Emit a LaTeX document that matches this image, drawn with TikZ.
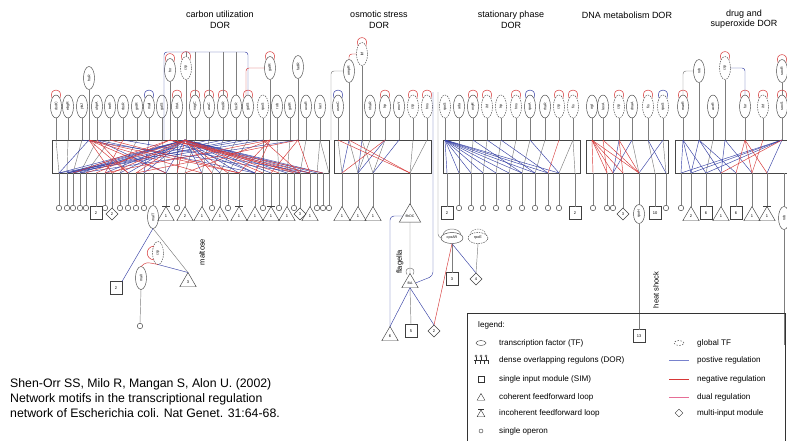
\documentclass[tikz,border=0pt]{standalone}
\usepackage{fontspec}
\setmainfont{Liberation Sans}
\usepackage{graphicx}
\usetikzlibrary{shapes.geometric,calc}
\definecolor{posc}{RGB}{55,65,165}
\definecolor{negc}{RGB}{215,55,55}
\definecolor{grc}{RGB}{125,125,125}
\definecolor{bxc}{RGB}{70,70,70}
\definecolor{legpc}{RGB}{120,130,205}
\definecolor{legdc}{RGB}{230,110,150}
\tikzset{
  tf/.style={ellipse, draw=black!75, line width=0.45pt, minimum width=11pt, minimum height=23pt, inner sep=0pt, outer sep=0pt, font=\fontsize{3.6}{4}\selectfont},
  gtf/.style={tf, dash pattern=on 1.5pt off 1pt},
  op/.style={circle, draw=black!75, line width=0.45pt, minimum size=5.5pt, inner sep=0pt, outer sep=0pt},
  simn/.style={rectangle, draw=black!75, line width=0.45pt, minimum width=12pt, minimum height=13pt, inner sep=0pt, outer sep=0pt, font=\fontsize{4}{4}\selectfont},
  ffl/.style={regular polygon, regular polygon sides=3, draw=black!75, line width=0.45pt, minimum size=19pt, inner sep=0pt, outer sep=0pt, font=\fontsize{4}{4}\selectfont},
  mim/.style={diamond, draw=black!75, line width=0.45pt, minimum size=12pt, inner sep=0pt, outer sep=0pt, font=\fontsize{4}{4}\selectfont},
  dorbox/.style={rectangle, draw=bxc, line width=0.5pt, inner sep=0pt, outer sep=0pt, anchor=north west, minimum height=33pt},
  vl/.style={draw=grc, line width=0.45pt},
  pl/.style={draw=posc, line width=0.45pt},
  nl/.style={draw=negc, line width=0.45pt},
  title/.style={font=\fontsize{9}{10.5}\selectfont, align=center, inner sep=0pt},
  rottext/.style={font=\fontsize{7.5}{8}\selectfont, rotate=90, inner sep=0pt},
  legtext/.style={font=\fontsize{8.1}{9}\selectfont, anchor=west, inner sep=0pt},
}
\newcommand\TF[4][tf]{\node[#1] (#2) at (#3) {\rotatebox{90}{#4}};}
\newcommand\SLP[2][negc]{\draw[draw=#1, line width=0.5pt] ($(#2.center)+(-4,-8.5)$) .. controls ($(#2.center)+(-8,-19)$) and ($(#2.center)+(8,-19)$) .. ($(#2.center)+(4,-8.5)$);}
\newcommand\IBAR[1]{\draw[black!75, line width=0.45pt] ($(#1.corner 1)+(-4,-0.5)$) -- ($(#1.corner 1)+(4,-0.5)$);}
\begin{document}
\begin{tikzpicture}[x=1pt,y=-1pt]
\useasboundingbox (0,0) rectangle (787,440);
\fill[white] (0,0) rectangle (787,440);
% titles
\node[title] (t1) at (220,20) {carbon utilization\\DOR};
\node[title] (t2) at (379,20) {osmotic stress\\DOR};
\node[title] (t3) at (511,20) {stationary phase\\DOR};
\node[title] (t4) at (627,15) {DNA metabolism DOR};
\node[title] (t5) at (744,19) {drug and\\superoxide DOR};
% DOR boxes
\node[dorbox, minimum width=277pt] (B1) at (52,140) {};
\node[dorbox, minimum width=97pt] (B2) at (334,140) {};
\node[dorbox, minimum width=137pt] (B3) at (443,140) {};
\node[dorbox, minimum width=82pt] (B4) at (586,140) {};
\node[dorbox, minimum width=120pt] (B5) at (675,140) {};
% ---------- interior lines ----------
\foreach \a/\b in {56/59,68/67,82/73,97/80,110/86,137/120,162/166,177/177,195/185,209/202,223/212,236/220,248/228,263/263,277/279,290/287,306/300,320/317,320/329,
  338/342,349/358,362/373,370/358,385/373,413/410,427/410,
  459/459,473/471,487/483,501/496,516/509,530/522,545/535,573/559,573/575,
  632/639,648/655,663/666,713/706}
  \draw[vl] (\a,140) -- (\b,173);
\foreach \a/\b in {185/59,185/67,185/73,185/80,185/105,185/120,185/128,185/144,185/166,185/202,185/220,185/239,185/255,185/271,185/287,185/300,185/310,185/317,185/323,89/59,170/255,97/166,97/255,123/310,149/144,298/80,263/67,209/67,223/67,236/73,248/59,82/300,
  349/342,362/358,385/358,399/373,
  445/447,445/459,445/471,445/483,445/496,445/509,445/522,445/535,445/548,445/559,473/522,487/535,501/548,530/559,
  619/613,632/613,648/666,663/639,
  683/681,683/691,683/706,699/691,699/721,699/736,725/721,725/752,782/681,782/691,782/706,782/767}
  \draw[pl] (\a,140) -- (\b,173);
\foreach \a/\b in {185/86,185/112,185/136,185/177,185/212,185/228,185/263,185/279,185/294,89/112,89/128,89/166,89/202,89/239,170/73,170/96,170/300,170/310,170/323,123/105,270/105,270/185,270/239,270/255,298/136,298/271,298/310,97/128,110/239,263/300,
  349/410,385/342,338/410,
  559/548,
  592/593,592/607,592/613,592/623,592/639,603/607,603/639,619/623,619/639,
  745/736,745/752,745/767,763/752,782/721}
  \draw[nl] (\a,140) -- (\b,173);
% ---------- carbon utilization TFs ----------
\TF{c1}{56,106.5}{dsdC}
\TF{c2}{68,106.5}{ebgR}
\TF{c3}{82,106.5}{yiaJ}
\TF{c4}{97,106.5}{uhpA}
\TF{c5}{110,106.5}{treR}
\TF{c6}{123,106.5}{rbsR}
\TF{c7}{137,106.5}{gntR}
\TF{c8}{149,106.5}{malI}
\TF{c9}{162,106.5}{galS}
\TF{c10}{177,106.5}{lrhA}
\TF{c11}{195,106.5}{nagC}
\TF{c12}{209,106.5}{araC}
\TF{c13}{223,106.5}{melR}
\TF{c14}{236,106.5}{fucR}
\TF{c15}{248,106.5}{galS}
\TF[gtf]{c16}{263,106.5}{rpoS}
\TF{c17}{277,106.5}{rob}
\TF{c18}{290,106.5}{galR}
\TF{c19}{306,106.5}{uxuR}
\TF{c20}{320,106.5}{lacI}
\TF{fruR}{89,78}{fruR}
\TF{fnr}{170,70}{fnr}
\TF[gtf]{crpA}{186,68}{crp}
\TF{galR}{270,68}{galR}
\TF{fadR}{298,67}{fadR}
\foreach \n in {c1,c2,c3,c4,c5,c6,c7,c8,c9,c10,c11,c12,c13,c14,c15,c16,c17,c18,c19,c20,fruR,fnr,crpA,galR,fadR}
  \draw[vl] (\n.south) -- (\n.south |- B1.north);
\SLP{c1}\SLP[posc]{c8}\SLP{c10}\SLP{c11}\SLP{c12}\SLP{c13}\SLP{c15}\SLP{fnr}\SLP{crpA}\SLP{galR}
\draw[pl, rounded corners=3pt] (164,140) -- (164,52) -- (c15.north |- 0,52) -- (c15.north);
\foreach \n in {c11,c12,c13,c14} \draw[vl] (\n.north |- 0,52) -- (\n.north);
\draw[vl] (crpA.north) -- (crpA.north |- 0,52);
\draw[nl, rounded corners=3pt] (galR.west) -| ($(c15.north)+(-2,0)$);
% ---------- osmotic stress TFs ----------
\TF{o1}{338,106.5}{osmC}
\TF{o2}{370,106.5}{nhaR}
\TF{o3}{385,106.5}{lrp}
\TF{o4}{399,106.5}{envY}
\TF[gtf]{o5}{413,106.5}{crp}
\TF[gtf]{o6}{427,106.5}{hns}
\TF{ompR}{349,71}{ompR}
\TF[gtf]{ihfA}{362,54}{ihf}
\foreach \n in {o1,o2,o3,o4,o5,o6,ompR,ihfA}
  \draw[vl] (\n.south) -- (\n.south |- B2.north);
\SLP[posc]{o1}\SLP{o3}\SLP{o5}\SLP{o6}\SLP{ihfA}
\draw[nl, rounded corners=3pt] (ihfA.west) -| (ompR.north);
\draw[vl, rounded corners=3pt] (ompR.west) -| (331,140);
% ---------- stationary phase TFs ----------
\TF[gtf]{s1}{445,106.5}{rpoS}
\TF{s2}{459,106.5}{ada}
\TF{s3}{473,106.5}{oxyR}
\TF[gtf]{s4}{487,106.5}{ihf}
\TF[gtf]{s5}{501,106.5}{lrp}
\TF[gtf]{s6}{516,106.5}{hns}
\TF{s7}{530,106.5}{rpoA}
\TF{s8}{545,106.5}{rhaR}
\TF[gtf]{s9}{559,106.5}{crp}
\TF[gtf]{s10}{573,106.5}{fis}
\foreach \n in {s1,s2,s3,s4,s5,s6,s7,s8,s9,s10}
  \draw[vl] (\n.south) -- (\n.south |- B3.north);
\SLP{s3}\SLP{s4}\SLP{s6}\SLP[posc]{s7}\SLP{s9}\SLP{s10}
% ---------- DNA metabolism TFs ----------
\TF{d1}{592,106.5}{ogt}
\TF{d2}{603,106.5}{lexA}
\TF[gtf]{d3}{619,106.5}{crp}
\TF{d4}{632,106.5}{dnaA}
\TF[gtf]{d5}{648,106.5}{fis}
\TF[gtf]{d6}{663,106.5}{rpoS}
\foreach \n in {d1,d2,d3,d4,d5,d6}
  \draw[vl] (\n.south) -- (\n.south |- B4.north);
\SLP{d3}\SLP{d5}\SLP[posc]{d6}
% ---------- drug and superoxide TFs ----------
\TF{r1}{683,106.5}{marR}
\TF{r2}{713,106.5}{acrR}
\TF{r3}{745,106.5}{fur}
\TF[gtf]{r4}{763,106.5}{ihf}
\TF{r5}{782,106.5}{soxS}
\TF{rob}{699,71}{rob}
\TF[gtf]{crpD}{725,68}{crp}
\TF{soxR}{782,71}{soxR}
\foreach \n in {r1,r2,r3,r4,r5,rob,crpD}
  \draw[vl] (\n.south) -- (\n.south |- B5.north);
\draw[vl] (soxR.south) -- (r5.north);
\SLP{r1}\SLP{r3}\SLP{r4}\SLP{r5}\SLP{crpD}\SLP{soxR}
\draw[vl, rounded corners=3pt] (rob.west) -| (r1.north);
\draw[pl, rounded corners=3pt] (crpD.east) -| (r3.north);
% ---------- bottom row: carbon ----------
\node[op] (b1) at (59,208) {};
\node[op] (b2) at (67,208) {};
\node[op] (b3) at (73,208) {};
\node[op] (b4) at (80,208) {};
\node[op] (b5) at (86,208) {};
\node[simn] (b6) at (96,213) {2};
\node[op] (b7) at (105,208) {};
\node[mim] (b8) at (112,214) {2};
\node[op] (b9) at (120,208) {};
\node[op] (b10) at (128,208) {};
\node[op] (b11) at (136,208) {};
\node[op] (b12) at (144,208) {};
\TF{malT}{153,217}{malT}
\node[ffl] (b14) at (166,216) {1};
\node[op] (b15) at (177,208) {};
\node[ffl] (b16) at (185,216) {2};
\node[ffl] (b17) at (202,216) {1};
\node[op] (b18) at (212,208) {};
\node[ffl] (b19) at (220,216) {1};
\node[op] (b20) at (228,208) {};
\node[ffl] (b21) at (239,216) {1};
\node[ffl] (b22) at (255,216) {1};
\node[op] (b23) at (263,208) {};
\node[ffl] (b24) at (271,216) {1};
\node[op] (b25) at (279,208) {};
\node[ffl] (b26) at (287,216) {1};
\node[op] (b27) at (294,208) {};
\node[mim] (b28) at (300,214) {3};
\node[ffl] (b29) at (310,216) {1};
\node[op] (b30) at (317,208) {};
\node[op] (b31) at (323,208) {};
\node[op] (b32) at (329,208) {};
\foreach \n in {b1,b2,b3,b4,b5,b6,b7,b8,b9,b10,b11,b12,malT,b14,b15,b16,b17,b18,b19,b20,b21,b22,b23,b24,b25,b26,b27,b28,b29,b30,b31,b32}
  \draw[vl] (\n.north |- B1.south) -- (\n.north);
\IBAR{b14}\IBAR{b21}\IBAR{b24}
% maltose subnetwork
\TF[gtf]{crpM}{158,253}{crp}
\TF{malI}{141,278}{malI}
\node[simn] (m2) at (116,288) {2};
\node[ffl] (m3) at (188,282) {3};
\node[op] (mop) at (140,326) {};
\draw[pl] (malT.south) -- (m2.north east);
\draw[vl] (malT.south) -- (m3.corner 1);
\draw[nl] (malI.north) .. controls (146,262) .. (crpM.south);
\draw[negc, line width=0.5pt] ($(crpM.center)+(-4,-7)$) .. controls ($(crpM.center)+(-13,-6)$) and ($(crpM.center)+(-13,6)$) .. ($(crpM.center)+(-4,7)$);
\draw[pl] (crpM.south) -- (m3.corner 1);
\draw[vl] (malI.south) -- (mop.north);
\node[rottext] (maltose) at (202,252) {maltose};
% ---------- bottom row: osmotic ----------
\node[ffl] (ob1) at (342,216) {1};
\node[ffl] (ob2) at (358,216) {1};
\node[ffl] (ob3) at (373,216) {1};
\node[ffl, font=\fontsize{3.5}{4}\selectfont] (flhDC) at (410,216) {flhDC};
\foreach \n in {ob1,ob2,ob3,flhDC}
  \draw[vl] (\n.north |- B2.south) -- (\n.north);
% flagella
\node[ffl, font=\fontsize{3.5}{4}\selectfont] (fliA) at (410,283) {fliA};
\draw[vl] (flhDC.south) -- (fliA.corner 1);
\draw[vl, line width=0.5pt] ($(fliA.corner 1)+(-3,1)$) .. controls (402,266) and (418,266) .. ($(fliA.corner 1)+(3,1)$);
\node[rottext] (flag) at (400,262) {flagella};
\node[ffl] (f6) at (390,336) {6};
\node[simn] (f5) at (411,331) {5};
\node[mim] (f2) at (434,331) {2};
\draw[pl] (fliA.south) -- (f6.corner 1);
\draw[vl] (fliA.south) -- (f5.north);
\draw[pl] (fliA.south) -- (f2.north);
\draw[pl, rounded corners=4pt] (flhDC.west) -| (f6.corner 1);
\draw[pl, rounded corners=4pt] (433,92) -- (433,276) -- (fliA.east);
% ---------- bottom row: stationary ----------
\node[simn] (sb1) at (447,213) {2};
\node[op] (sb2) at (459,208) {};
\node[op] (sb3) at (471,208) {};
\node[op] (sb4) at (483,208) {};
\node[op] (sb5) at (496,208) {};
\node[op] (sb6) at (509,208) {};
\node[op] (sb7) at (522,208) {};
\node[op] (sb8) at (535,208) {};
\node[op] (sb9) at (548,208) {};
\node[op] (sb10) at (559,208) {};
\node[simn] (sb11) at (575,213) {2};
\foreach \n in {sb1,sb2,sb3,sb4,sb5,sb6,sb7,sb8,sb9,sb10,sb11}
  \draw[vl] (\n.north |- B3.south) -- (\n.north);
% cpxAR / rpoE
\node[ellipse, draw=black!75, line width=0.45pt, minimum width=22pt, minimum height=11pt, inner sep=0pt, font=\fontsize{3.6}{4}\selectfont] (cpxAR) at (452,238) {cpxAR};
\node[ellipse, draw=black!75, line width=0.45pt, dash pattern=on 1.5pt off 1pt, minimum width=20pt, minimum height=11pt, inner sep=0pt, font=\fontsize{3.6}{4}\selectfont] (rpoE) at (478,238) {rpoE};
\draw[grc, line width=0.5pt] ($(cpxAR.center)+(-9,-3)$) .. controls ($(cpxAR.center)+(-8,-11)$) and ($(cpxAR.center)+(8,-11)$) .. ($(cpxAR.center)+(9,-3)$);
\draw[grc, line width=0.5pt, dash pattern=on 1.5pt off 1pt] ($(rpoE.center)+(-8,-3)$) .. controls ($(rpoE.center)+(-7,-11)$) and ($(rpoE.center)+(7,-11)$) .. ($(rpoE.center)+(8,-3)$);
\node[simn] (c3sim) at (452,279) {3};
\node[mim] (c4mim) at (476,279) {4};
\draw[vl] (cpxAR.south) -- (c3sim.north);
\draw[pl] (cpxAR.south) -- (c4mim.north);
\draw[vl] (rpoE.south) -- (c4mim.north);
\draw[nl] (cpxAR.south) -- (f2.north);
\draw[vl, rounded corners=4pt] (438,92) -- (438,238) -- (cpxAR.west);
% ---------- bottom row: DNA ----------
\node[op] (db1) at (593,208) {};
\node[op] (db2) at (607,208) {};
\node[op] (db3) at (613,208) {};
\node[mim] (db4) at (623,214) {3};
\node[tf, minimum height=19pt] (rpoH) at (639,214) {\rotatebox{90}{rpoH}};
\node[simn] (db6) at (655,213) {10};
\node[op] (db7) at (666,208) {};
\foreach \n in {db1,db2,db3,db4,rpoH,db6,db7}
  \draw[vl] (\n.north |- B4.south) -- (\n.north);
\node[simn] (hs13) at (639,336) {13};
\draw[vl] (rpoH.south) -- (hs13.north);
\node[rottext] (heat) at (656,290) {heat shock};
% ---------- bottom row: drug ----------
\node[op] (rb1) at (681,208) {};
\node[ffl] (rb2) at (691,216) {2};
\node[simn] (rb3) at (706,213) {6};
\node[ffl] (rb4) at (721,216) {1};
\node[simn] (rb5) at (736,213) {6};
\node[ffl] (rb6) at (752,216) {1};
\node[ffl] (rb7) at (767,216) {1};
\TF{fadB}{784,218}{rob}
\foreach \n in {rb1,rb2,rb3,rb4,rb5,rb6,rb7,fadB}
  \draw[vl] (\n.north |- B5.south) -- (\n.north);
\IBAR{rb7}
\coordinate (fadEnd) at (784,345);
\draw[vl] (fadB.south) -- (fadEnd);
% ---------- legend ----------
\draw[black!80, line width=0.6pt] (467,441) -- (467,313) -- (785,313) -- (785,441);
\node[legtext] (lg) at (478,325) {legend:};
\node[ellipse, draw=black!80, minimum width=10pt, minimum height=5pt, inner sep=0pt] (s1) at (481,343) {};
\node[legtext] (l1) at (499,343) {transcription factor (TF)};
\draw[black!80, line width=0.4pt] (474,360) -- (488,360);
\foreach \x in {476,481,486} {\draw[black!80, line width=0.4pt] (\x,356) circle (1.2pt); \draw[black!80, line width=0.4pt] (\x,357.2) -- (\x,360);}
\foreach \x in {475,479.7,484.3,488} \draw[black!80, line width=0.4pt] (\x,360) -- (\x,363.5);
\node[legtext] (l2) at (499,360) {dense overlapping regulons (DOR)};
\node[rectangle, draw=black!80, minimum size=6pt, inner sep=0pt] (s3) at (481,379) {};
\node[legtext] (l3) at (499,379) {single input module (SIM)};
\node[regular polygon, regular polygon sides=3, draw=black!80, minimum size=9pt, inner sep=0pt] (s4) at (481,398) {};
\node[legtext] (l4) at (499,397) {coherent feedforward loop};
\node[regular polygon, regular polygon sides=3, draw=black!80, minimum size=9pt, inner sep=0pt] (s5) at (481,414.5) {};
\draw[black!80] ($(s5.corner 1)+(-3,0)$) -- ($(s5.corner 1)+(3,0)$);
\node[legtext] (l5) at (499,413) {incoherent feedforward loop};
\node[circle, draw=black!80, minimum size=4pt, inner sep=0pt] (s6) at (481,431) {};
\node[legtext] (l6) at (499,431) {single operon};
\node[ellipse, draw=black!80, dash pattern=on 1.5pt off 1.5pt, minimum width=10pt, minimum height=5pt, inner sep=0pt] (s7) at (679,343) {};
\node[legtext] (l7) at (697,343) {global TF};
\coordinate (lpA) at (669,360); \coordinate (lpB) at (689,360);
\draw[draw=legpc, line width=0.9pt] (lpA) -- (lpB);
\node[legtext] (l8) at (697,360) {postive regulation};
\coordinate (lnA) at (669,379); \coordinate (lnB) at (689,379);
\draw[draw=negc, line width=0.9pt] (lnA) -- (lnB);
\node[legtext] (l9) at (697,379) {negative regulation};
\coordinate (ldA) at (669,397); \coordinate (ldB) at (689,397);
\draw[draw=legdc, line width=0.9pt] (ldA) -- (ldB);
\node[legtext] (l10) at (697,397) {dual regulation};
\node[diamond, draw=black!80, minimum size=8pt, inner sep=0pt] (s11) at (679,413) {};
\node[legtext] (l11) at (697,413) {multi-input module};
% ---------- citation ----------
\node[font=\fontsize{12.3}{15}\selectfont, align=left, anchor=north west, inner sep=0pt] (cite) at (10,378.5) {Shen-Orr SS, Milo R, Mangan S, Alon U. (2002)\\Network motifs in the transcriptional regulation\\network of Escherichia coli. Nat Genet. 31:64-68.};
\end{tikzpicture}
\end{document}
